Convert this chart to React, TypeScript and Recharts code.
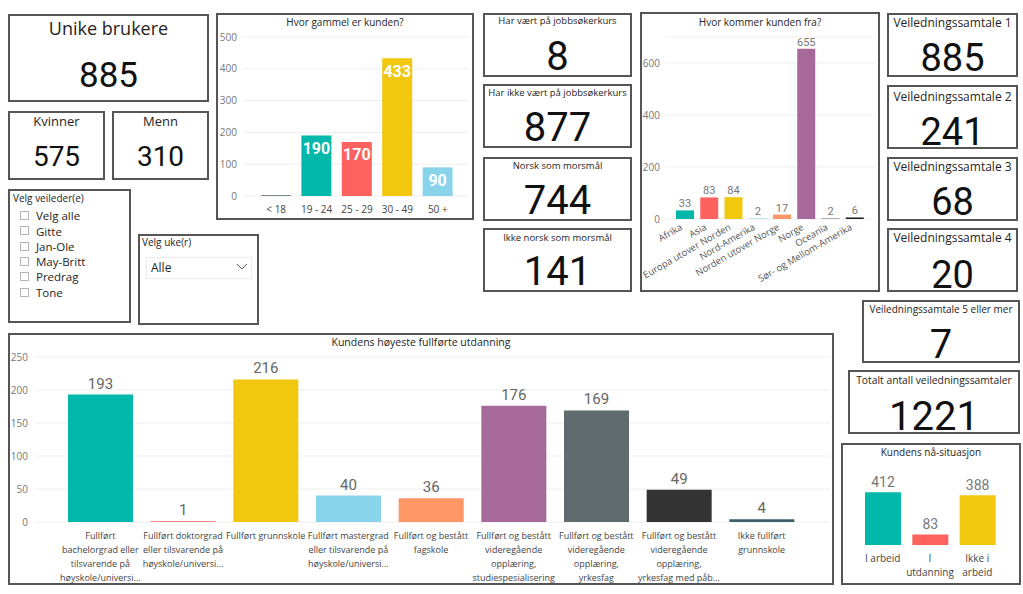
import React from 'react';
import { BarChart, Bar, XAxis, YAxis, CartesianGrid, Cell, LabelList } from 'recharts';

const UI = "'Open Sans', 'Noto Sans', sans-serif";
const NUM = "Roboto, 'DejaVu Sans', sans-serif";
const BORDER = '2px solid #555';

// Nøkkeltall
const uniqueUsers = 885;
const women = 575;
const men = 310;
const courseTitles = ['Har vært på jobbsøkerkurs', 'Har ikke vært på jobbsøkerkurs', 'Norsk som morsmål', 'Ikke norsk som morsmål'];
const courseValues = [8, 877, 744, 141];
const sessionTitles = ['Veiledningssamtale 1', 'Veiledningssamtale 2', 'Veiledningssamtale 3', 'Veiledningssamtale 4'];
const sessionValues = [885, 241, 68, 20];
const sessionsFivePlus = 7;
const sessionsTotal = 1221;

// Slicere
const counsellors = ['Velg alle', 'Gitte', 'Jan-Ole', 'May-Britt', 'Predrag', 'Tone'];
const weekChoice = 'Alle';

// Alder
const ageGroups = ['< 18', '19 - 24', '25 - 29', '30 - 49', '50 +'];
const ageCounts = [2, 190, 170, 433, 90];
const ageColors = ['#374649', '#01B8AA', '#FD625E', '#F2C80F', '#8AD4EB'];
const ageTicks = [0, 100, 200, 300, 400, 500];

// Opprinnelse
const regions = ['Afrika', 'Asia', 'Europa utover Norden', 'Nord-Amerika', 'Norden utover Norge', 'Norge', 'Oceania', 'Sør- og Mellom-Amerika'];
const regionCounts = [33, 83, 84, 2, 17, 655, 2, 6];
const regionColors = ['#01B8AA', '#FD625E', '#F2C80F', '#8AD4EB', '#FE9666', '#A66999', '#5F6B6D', '#222222'];
const regionTicks = [0, 200, 400, 600];

// Utdanning
const educationLevels = [
  'Fullført\nbachelorgrad eller\ntilsvarende på\nhøyskole/universi...',
  'Fullført doktorgrad\neller tilsvarende på\nhøyskole/universi...',
  'Fullført grunnskole',
  'Fullført mastergrad\neller tilsvarende på\nhøyskole/universi...',
  'Fullført og bestått\nfagskole',
  'Fullført og bestått\nvideregående\nopplæring,\nstudiespesialisering',
  'Fullført og bestått\nvideregående\nopplæring,\nyrkesfag',
  'Fullført og bestått\nvideregående\nopplæring,\nyrkesfag med påb...',
  'Ikke fullført\ngrunnskole',
];
const educationCounts = [193, 1, 216, 40, 36, 176, 169, 49, 4];
const educationColors = ['#01B8AA', '#FD625E', '#F2C80F', '#8AD4EB', '#FE9666', '#A66999', '#5F6B6D', '#333333', '#3F5F6B'];
const educationTicks = [0, 50, 100, 150, 200, 250];

// Nå-situasjon
const situations = ['I arbeid', 'I\nutdanning', 'Ikke i\narbeid'];
const situationCounts = [412, 83, 388];
const situationColors = ['#01B8AA', '#FD625E', '#F2C80F'];

const ageData = ageGroups.map((name, i) => ({ name, value: ageCounts[i] }));
const regionData = regions.map((name, i) => ({ name, value: regionCounts[i] }));
const educationData = educationLevels.map((name, i) => ({ name, value: educationCounts[i] }));
const situationData = situations.map((name, i) => ({ name, value: situationCounts[i] }));

type TxtProps = {
  x: number; w: number; cy: number; size: number;
  family?: string; color?: string; align?: 'left' | 'center'; children: React.ReactNode;
};

const Txt = ({ x, w, cy, size, family = UI, color = '#252423', align = 'center', children }: TxtProps) => (
  <div
    style={{
      position: 'absolute', left: x, width: w, top: cy - size / 2, height: size,
      lineHeight: `${size}px`, fontSize: size, fontFamily: family, color,
      textAlign: align, whiteSpace: 'nowrap',
    }}
  >
    {children}
  </div>
);

const Frame = ({ x, y, w, h }: { x: number; y: number; w: number; h: number }) => (
  <div style={{ position: 'absolute', left: x, top: y, width: w, height: h, border: BORDER, boxSizing: 'border-box' }} />
);

type CardProps = {
  x: number; y: number; w: number; h: number;
  title: string; titleY: number; titleSize: number;
  value: number; valueY: number; valueSize: number;
};

const Card = ({ x, y, w, h, title, titleY, titleSize, value, valueY, valueSize }: CardProps) => (
  <>
    <Frame x={x} y={y} w={w} h={h} />
    <Txt x={x} w={w} cy={titleY} size={titleSize}>{title}</Txt>
    <Txt x={x} w={w} cy={valueY} size={valueSize} family={NUM} color="#111">{value}</Txt>
  </>
);

// multi-line tick for the category axes
const LinesTick = ({ x, y, payload, dy, lh, size }: any) => {
  const lines = String(payload.value).split('\n');
  return (
    <text x={x} y={y} textAnchor="middle" fontSize={size} fill="#444" fontFamily={UI}>
      {lines.map((l, i) => (
        <tspan key={i} x={x} dy={i === 0 ? dy : lh}>{l}</tspan>
      ))}
    </text>
  );
};

const RotatedTick = ({ x, y, payload }: any) => (
  <text
    transform={`translate(${x - 2},${y + 10}) rotate(-30)`}
    textAnchor="end"
    fontSize={9.5}
    fill="#555"
    fontFamily={UI}
  >
    {payload.value}
  </text>
);

const yTick = { fontSize: 10, fill: '#777', fontFamily: UI };

export default function App() {
  return (
    <div style={{ position: 'absolute', left: 0, top: 0, width: 1023, height: 594, background: '#fff', fontFamily: UI }}>
      {/* venstre kolonne */}
      <Card x={8} y={14} w={201} h={88} title="Unike brukere" titleY={28} titleSize={18} value={uniqueUsers} valueY={75} valueSize={35} />
      <Card x={8} y={111} w={97} h={69} title="Kvinner" titleY={121} titleSize={13} value={women} valueY={157} valueSize={28} />
      <Card x={112} y={111} w={97} h={69} title="Menn" titleY={121} titleSize={13} value={men} valueY={157} valueSize={28} />

      <Frame x={8} y={189} w={123} h={134} />
      <Txt x={13} w={110} cy={198} size={10} align="left">Velg veileder(e)</Txt>
      {counsellors.map((c, i) => (
        <React.Fragment key={c}>
          <div style={{ position: 'absolute', left: 20, top: 211 + i * 15.3, width: 9, height: 9, border: '1px solid #b5b5b5', boxSizing: 'border-box' }} />
          <Txt x={36} w={90} cy={216 + i * 15.3} size={11.5} align="left">{c}</Txt>
        </React.Fragment>
      ))}

      <Frame x={138} y={234} w={121} h={91} />
      <Txt x={142} w={100} cy={242} size={10} align="left">Velg uke(r)</Txt>
      <div style={{ position: 'absolute', left: 146, top: 257, width: 106, height: 22, border: '1px solid #ececec', boxSizing: 'border-box' }} />
      <Txt x={151} w={60} cy={268} size={12} align="left">{weekChoice}</Txt>
      <svg style={{ position: 'absolute', left: 236, top: 263 }} width={12} height={8}>
        <polyline points="1,1 6,6 11,1" fill="none" stroke="#555" strokeWidth={1} />
      </svg>

      {/* alder */}
      <Frame x={216} y={13} w={258} h={207} />
      <Txt x={216} w={258} cy={22} size={10}>Hvor gammel er kunden?</Txt>
      <div style={{ position: 'absolute', left: 216, top: 13 }}>
        <BarChart width={258} height={207} data={ageData} margin={{ top: 24, right: 6, bottom: 4, left: 0 }}>
          <CartesianGrid vertical={false} stroke="#eeeeee" />
          <XAxis dataKey="name" height={20} axisLine={false} tickLine={false} tickSize={0} tickMargin={10} interval={0} padding={{ left: 13, right: 10 }} tick={{ fontSize: 10, fill: '#444', fontFamily: UI }} />
          <YAxis width={27} domain={[0, 500]} ticks={ageTicks} axisLine={false} tickLine={false} tickSize={0} tickMargin={6} tick={yTick} />
          <Bar dataKey="value" barSize={30} isAnimationActive={false}>
            {ageData.map((d, i) => <Cell key={d.name} fill={ageColors[i]} />)}
            <LabelList dataKey="value" position="insideTop" offset={7} fill="#fff" fontSize={16} fontWeight={700} fontFamily={NUM} formatter={(v: any) => (v < 20 ? '' : v)} />
          </Bar>
        </BarChart>
      </div>

      {/* jobbsøkerkurs / morsmål */}
      {courseTitles.map((t, i) => (
        <Card key={t} x={483} y={[13, 84, 157, 228][i]} w={149} h={64} title={t} titleY={[21, 93, 166, 238][i]} titleSize={9.5} value={courseValues[i]} valueY={[57, 128, 201, 272][i]} valueSize={40} />
      ))}

      {/* opprinnelse */}
      <Frame x={640} y={12} w={240} h={280} />
      <Txt x={640} w={240} cy={22} size={10}>Hvor kommer kunden fra?</Txt>
      <div style={{ position: 'absolute', left: 640, top: 12 }}>
        <BarChart width={240} height={280} data={regionData} margin={{ top: 25, right: 5, bottom: 0, left: 0 }}>
          <CartesianGrid vertical={false} stroke="#eeeeee" />
          <XAxis dataKey="name" height={73} axisLine={false} tickLine={false} tickSize={0} tickMargin={0} interval={0} padding={{ left: 7, right: 8 }} tick={<RotatedTick />} />
          <YAxis width={26} domain={[0, 700]} ticks={regionTicks} axisLine={false} tickLine={false} tickSize={0} tickMargin={6} tick={yTick} />
          <Bar dataKey="value" barSize={18} isAnimationActive={false}>
            {regionData.map((d, i) => <Cell key={d.name} fill={regionColors[i]} />)}
            <LabelList dataKey="value" position="top" offset={3} fill="#777" fontSize={11} fontFamily={NUM} />
          </Bar>
        </BarChart>
      </div>

      {/* veiledningssamtaler */}
      {sessionTitles.map((t, i) => (
        <Card key={t} x={887} y={[13, 85, 157, 228][i]} w={131} h={64} title={t} titleY={[23, 97, 167, 238][i]} titleSize={12} value={sessionValues[i]} valueY={[58, 132, 202, 275][i]} valueSize={38} />
      ))}
      <Card x={862} y={300} w={158} h={63} title="Veiledningssamtale 5 eller mer" titleY={309} titleSize={10} value={sessionsFivePlus} valueY={345} valueSize={40} />
      <Card x={848} y={370} w={172} h={64} title="Totalt antall veiledningssamtaler" titleY={380} titleSize={10.3} value={sessionsTotal} valueY={417} valueSize={40} />

      {/* utdanning */}
      <Frame x={8} y={333} w={826} h={252} />
      <Txt x={8} w={826} cy={342} size={10.5}>Kundens høyeste fullførte utdanning</Txt>
      <div style={{ position: 'absolute', left: 8, top: 333 }}>
        <BarChart width={826} height={252} data={educationData} margin={{ top: 24, right: 4, bottom: 0, left: 0 }}>
          <CartesianGrid vertical={false} stroke="#eeeeee" />
          <XAxis dataKey="name" height={63} axisLine={false} tickLine={false} tickSize={0} tickMargin={0} interval={0} padding={{ left: 24, right: 27 }} tick={<LinesTick dy={16.5} lh={14} size={9} />} />
          <YAxis width={27} domain={[0, 250]} ticks={educationTicks} axisLine={false} tickLine={false} tickSize={0} tickMargin={7} tick={yTick} />
          <Bar dataKey="value" barSize={65} isAnimationActive={false}>
            {educationData.map((d, i) => <Cell key={i} fill={educationColors[i]} />)}
            <LabelList dataKey="value" position="top" offset={6} fill="#666" fontSize={15} fontFamily={NUM} />
          </Bar>
        </BarChart>
      </div>

      {/* nå-situasjon */}
      <Frame x={841} y={443} w={180} h={142} />
      <Txt x={841} w={180} cy={452} size={10}>Kundens nå-situasjon</Txt>
      <div style={{ position: 'absolute', left: 841, top: 443 }}>
        <BarChart width={180} height={142} data={situationData} margin={{ top: 38, right: 20, bottom: 0, left: 18 }}>
          <XAxis dataKey="name" height={40} axisLine={false} tickLine={false} tickSize={0} tickMargin={0} interval={0} tick={<LinesTick dy={16.5} lh={14.5} size={10} />} />
          <YAxis hide domain={[0, 500]} />
          <Bar dataKey="value" barSize={36} isAnimationActive={false}>
            {situationData.map((d, i) => <Cell key={i} fill={situationColors[i]} />)}
            <LabelList dataKey="value" position="top" offset={5} fill="#777" fontSize={14} fontFamily={NUM} />
          </Bar>
        </BarChart>
      </div>
    </div>
  );
}
